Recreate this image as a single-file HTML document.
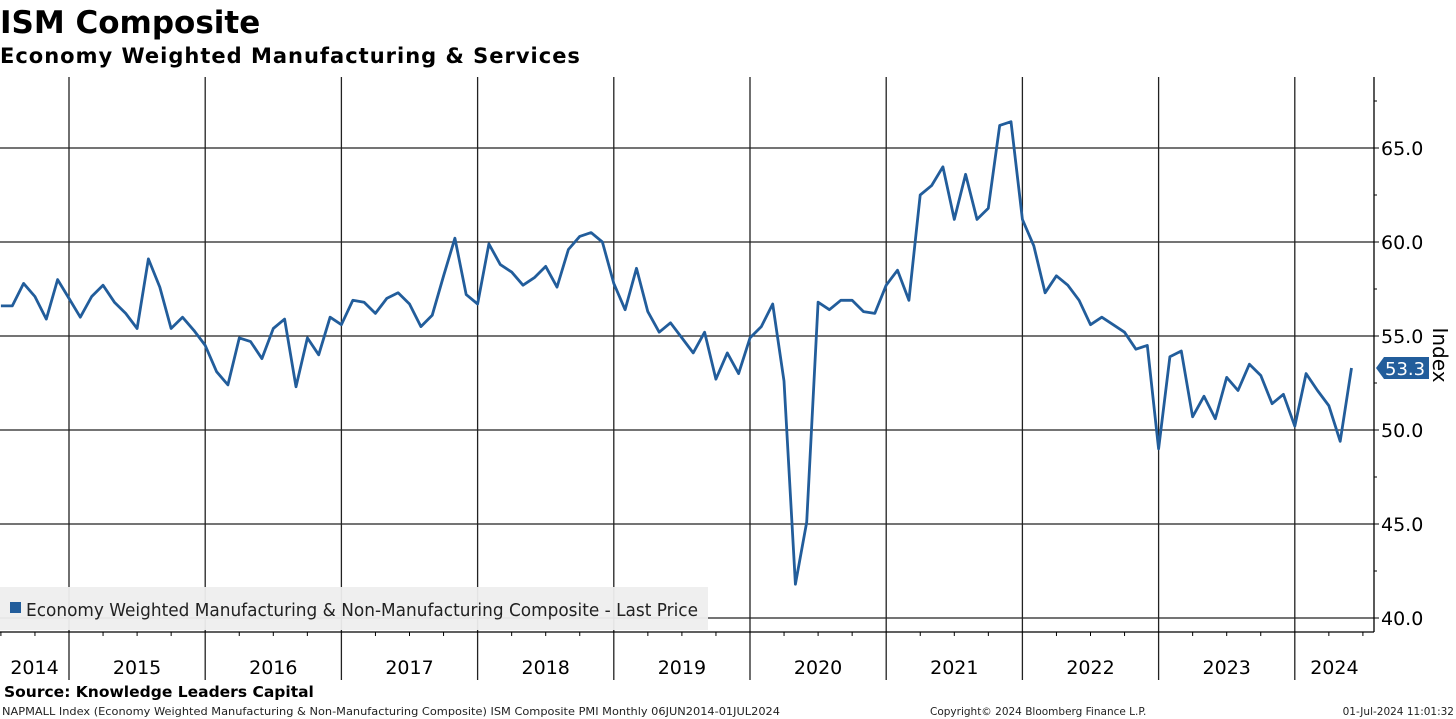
<!DOCTYPE html>
<html><head><meta charset="utf-8"><style>
body{margin:0;width:1456px;height:719px;background:#fff;overflow:hidden;font-family:"DejaVu Sans","Liberation Sans",sans-serif}
svg{position:absolute;left:0;top:0}
</style></head><body>
<svg width="1456" height="719" id="c">
<text x="0" y="33" font-size="31" font-weight="bold" fill="#000">ISM Composite</text>
<text x="0" y="63" font-size="21" font-weight="bold" fill="#000" letter-spacing="1">Economy Weighted Manufacturing &amp; Services</text>
<g id="grid"></g>
<rect x="0" y="587" width="708" height="43" fill="#eeeeee" opacity="0.95"/>
<rect x="10" y="602" width="11" height="11" fill="#225d9b"/>
<text x="26" y="616" font-size="17.5" fill="#222" textLength="672" lengthAdjust="spacingAndGlyphs">Economy Weighted Manufacturing &amp; Non-Manufacturing Composite - Last Price</text>
<g id="series"></g>
<text x="4" y="697" font-size="15.5" font-weight="bold" fill="#000">Source: Knowledge Leaders Capital</text>
<text x="2" y="715" font-size="10.5" fill="#222" textLength="778" lengthAdjust="spacingAndGlyphs">NAPMALL Index (Economy Weighted Manufacturing &amp; Non-Manufacturing Composite) ISM Composite PMI  Monthly 06JUN2014-01JUL2024</text>
<text x="930" y="715" font-size="10.5" fill="#222">Copyright© 2024 Bloomberg Finance L.P.</text>
<text x="1454" y="715" font-size="10.5" fill="#222" text-anchor="end">01-Jul-2024 11:01:32</text>
<text transform="translate(1433,355) rotate(90)" font-size="20" fill="#000" text-anchor="middle">Index</text>
</svg>
<script>
const years=[2014,2015,2016,2017,2018,2019,2020,2021,2022,2023,2024];
const yTicks=[40,45,50,55,60,65];
const startMonth=6; // Jul 2014, months since Jan 2014
const values=[56.6,56.6,57.8,57.1,55.9,58.0,57.0,56.0,57.1,57.7,56.8,56.2,55.4,59.1,57.6,55.4,56.0,55.3,54.5,53.1,52.4,54.9,54.7,53.8,55.4,55.9,52.3,54.9,54.0,56.0,55.6,56.9,56.8,56.2,57.0,57.3,56.7,55.5,56.1,58.2,60.2,57.2,56.7,59.9,58.8,58.4,57.7,58.1,58.7,57.6,59.6,60.3,60.5,60.0,57.8,56.4,58.6,56.3,55.2,55.7,54.9,54.1,55.2,52.7,54.1,53.0,54.9,55.5,56.7,52.6,41.8,45.1,56.8,56.4,56.9,56.9,56.3,56.2,57.7,58.5,56.9,62.5,63.0,64.0,61.2,63.6,61.2,61.8,66.2,66.4,61.2,59.8,57.3,58.2,57.7,56.9,55.6,56.0,55.6,55.2,54.3,54.5,49.0,53.9,54.2,50.7,51.8,50.6,52.8,52.1,53.5,52.9,51.4,51.9,50.2,53.0,52.1,51.3,49.4,53.3];
const lastLabel="53.3";
const NS="http://www.w3.org/2000/svg";
const x0=-67.2, mw=11.35, axisX=1374, plotTop=77, plotBottom=632;
const xs=m=>x0+m*mw;
const ys=v=>148+(65-v)*18.8;
function mk(t,a,p){const e=document.createElementNS(NS,t);for(const k in a)e.setAttribute(k,a[k]);p.appendChild(e);return e;}
const g=document.getElementById('grid');
yTicks.forEach(v=>{
 const l=mk('line',{x1:0,x2:axisX,y1:ys(v),y2:ys(v),stroke:'#222','stroke-width':1.3},g);
 
 
 mk('line',{x1:axisX,x2:axisX+5,y1:ys(v),y2:ys(v),stroke:'#000'},g);
 const t=mk('text',{x:axisX+7,y:ys(v)+7,'font-size':19,fill:'#000'},g);t.textContent=v.toFixed(1);
 
 
 mk('line',{x1:axisX,x2:axisX+3,y1:ys(v+2.5),y2:ys(v+2.5),stroke:'#000'},g);
});
years.forEach((y,i)=>{
 const xa=xs(i*12), xb=Math.min(xs(i*12+12),axisX);
 if(i>0){const l=mk('line',{x1:xa,x2:xa,y1:plotTop,y2:680,stroke:'#222','stroke-width':1.3},g);
 
 }
 const t=mk('text',{x:(Math.max(xa,0)+xb)/2,y:674,'font-size':19,fill:'#000','text-anchor':'middle'},g);t.textContent=y;
 
 
 for(let q=1;q<4;q++){const xq=xs(i*12+q*3);if(xq>0&&xq<axisX)mk('line',{x1:xq,x2:xq,y1:plotBottom,y2:plotBottom+4,stroke:'#000'},g);}
});
mk('line',{x1:0,x2:axisX,y1:plotBottom,y2:plotBottom,stroke:'#000','stroke-width':1.3},g);
mk('line',{x1:axisX,x2:axisX,y1:plotTop,y2:plotBottom,stroke:'#000','stroke-width':1.3},g);
const s=document.getElementById('series');
const pts=values.map((v,i)=>xs(startMonth+i).toFixed(1)+','+ys(v).toFixed(1)).join(' ');
const pl=mk('polyline',{points:pts,fill:'none',stroke:'#225d9b','stroke-width':2.8,'stroke-linejoin':'round'},s);


const ly=ys(values[values.length-1]);
const tag=mk('path',{d:`M${axisX+2},${ly} L${axisX+10},${ly-11} H1429 V${ly+11} H${axisX+10} Z`,fill:'#225d9b'},s);


const tt=mk('text',{x:axisX+11,y:ly+7,'font-size':18,fill:'#fff'},s);tt.textContent=lastLabel;


</script>
</body></html>
